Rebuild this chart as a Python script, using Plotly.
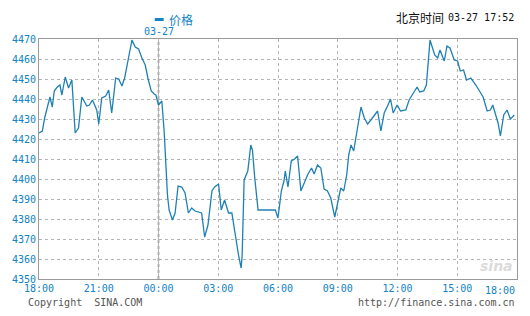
import plotly.graph_objects as go
from datetime import datetime, timedelta

# ---- data ----
times = ["18:00","18:10","18:17","18:25","18:33","18:40","18:46","18:55","19:03","19:09",
         "19:19","19:29","19:39","19:49","19:59","20:09","20:14","20:24","20:32","20:41",
         "20:54","21:00","21:09","21:21","21:30","21:39","21:46","21:51","22:00","22:10",
         "22:18","22:28","22:40","22:50","23:00","23:10","23:20","23:28","23:38","23:47",
         "23:52","00:00","00:10","00:17","00:27","00:32","00:42","00:50","00:59","01:10",
         "01:20","01:30","01:40","01:50","02:10","02:19","02:29","02:41","02:49","03:01",
         "03:09","03:19","03:31","03:41","03:51","04:01","04:09","04:12","04:18","04:29",
         "04:38","04:43","04:50","05:00","05:20","05:52","06:00","06:10","06:18","06:22",
         "06:30","06:40","06:50","06:59","07:09","07:19","07:29","07:41","07:49","07:59",
         "08:09","08:19","08:29","08:39","08:51","09:01","09:09","09:18","09:27","09:33",
         "09:40","09:48","09:56","10:03","10:10","10:20","10:30","10:40","10:50","11:00",
         "11:10","11:20","11:30","11:39","11:47","11:59","12:09","12:25","12:35","12:47",
         "12:59","13:07","13:19","13:27","13:32","13:38","13:52","14:01","14:08","14:21",
         "14:29","14:38","14:51","15:01","15:09","15:19","15:28","15:41","15:56","16:07",
         "16:18","16:30","16:40","16:47","16:55","17:03","17:10","17:20","17:30","17:40",
         "17:52"]
prices = [4423,4424,4430.5,4436,4441,4436,4444,4446,4447,4442,
          4451,4445.5,4449.5,4423,4425.5,4441,4439.5,4436.5,4437,4439.5,
          4434.5,4427.5,4440.5,4441.5,4444.5,4433,4443,4450.5,4450,4446.5,
          4450.5,4459,4469.5,4466,4465,4460.5,4457,4450.5,4444,4442.5,
          4442,4437,4439,4424,4392,4384.5,4379.5,4383,4396.5,4396,
          4393,4383,4385.5,4384,4383,4371,4377,4394,4396,4397.5,
          4384.5,4389.5,4383,4383,4371.5,4362,4355.5,4362,4399.5,4404,
          4417,4414.5,4400.5,4384.5,4384.5,4384.5,4380.5,4394,4399,4404,
          4396,4409,4410,4411.5,4394,4398,4402,4405.5,4402.5,4407,
          4405.5,4395,4394,4390.5,4381,4389,4395.5,4394,4402,4412,
          4417,4414,4422,4429.5,4436,4430.5,4427.5,4429.5,4431.5,4434,
          4424,4433,4436.5,4440,4433,4437,4434,4434.5,4439.5,4443,
          4446,4443.5,4444,4447,4455.5,4469.5,4462,4460.5,4464.5,4459,
          4466.5,4465.5,4459.5,4459,4454,4454.5,4449.5,4450.5,4447,4444,
          4441,4434,4434.5,4437,4432,4428,4421.5,4432,4434.5,4430,
          4432]
tick_labels = ["18:00","21:00","00:00","03:00","06:00","09:00","12:00","15:00","18:00"]
y_ticks = [4350,4360,4370,4380,4390,4400,4410,4420,4430,4440,4450,4460,4470]
series_name = "价格"
date_label = "03-27"
stamp_label = "03-27 17:52"

# ---- build datetimes ----
start = datetime(2025, 3, 26, 18, 0)
xs = []
day = datetime(2025, 3, 26)
prev = None
for t in times:
    h, m = map(int, t.split(":"))
    if prev is not None and (h, m) < prev:
        day = day + timedelta(days=1)
    prev = (h, m)
    xs.append(day + timedelta(hours=h, minutes=m))
end = start + timedelta(hours=24)
tickvals = [start + timedelta(hours=3 * i) for i in range(len(tick_labels))]
midnight = start + timedelta(hours=6)

BLUE = "#1283c4"
LINE = "#1f80b4"
W, H = 530, 316
ML, MR, MT, MB = 35, 12, 39, 37
PW, PH = W - ML - MR, H - MT - MB

def px(x):
    return (x - ML) / PW

def py(y):
    return (H - MB - y) / PH

fig = go.Figure()
fig.add_trace(go.Scatter(x=xs, y=prices, mode="lines", name=series_name,
                         line=dict(color=LINE, width=1.3), showlegend=False))

mono = "DejaVu Sans Mono"
fig.update_layout(
    width=W, height=H,
    margin=dict(l=ML, r=MR, t=MT, b=MB),
    paper_bgcolor="white", plot_bgcolor="white",
    xaxis=dict(range=[start, end], tickvals=tickvals[:-1], ticktext=tick_labels[:-1],
               showgrid=True, gridcolor="#b4b4b4", griddash="dot", gridwidth=1,
               showline=True, mirror=True, linecolor="#9a9a9a", linewidth=1,
               ticks="", tickfont=dict(family=mono, size=10, color=BLUE), zeroline=False),
    yaxis=dict(range=[4350, 4470], tickvals=y_ticks, ticktext=[str(v) for v in y_ticks],
               showgrid=True, gridcolor="#b4b4b4", griddash="dot", gridwidth=1,
               showline=True, mirror=True, linecolor="#9a9a9a", linewidth=1,
               ticks="", tickfont=dict(family=mono, size=10, color=BLUE), zeroline=False),
)

# date separator at midnight
fig.add_shape(type="line", xref="x", yref="paper", x0=midnight, x1=midnight, y0=0, y1=1,
              line=dict(color="#b0b0b0", width=2, dash="dot"), layer="below")

ann = []
# last x tick label, shifted to fit
ann.append(dict(x=px(518), y=py(290), xref="paper", yref="paper", text=tick_labels[-1],
                showarrow=False, xanchor="right", yanchor="middle",
                font=dict(family=mono, size=10, color=BLUE)))
# date label above midnight
ann.append(dict(x=midnight, y=py(31.5), xref="x", yref="paper", text=date_label,
                showarrow=False, xanchor="center", yanchor="middle",
                font=dict(family=mono, size=10, color=BLUE)))
# legend text
ann.append(dict(x=px(164), y=py(19.5), xref="paper", yref="paper", text=series_name,
                showarrow=False, xanchor="left", yanchor="middle",
                font=dict(family="Noto Sans CJK SC", size=12, color=BLUE)))
# Beijing time
ann.append(dict(x=px(517), y=py(17), xref="paper", yref="paper", text=stamp_label,
                showarrow=False, xanchor="right", yanchor="middle",
                font=dict(family=mono, size=10, color="#111111")))
ann.append(dict(x=px(446), y=py(17), xref="paper", yref="paper", text="北京时间",
                showarrow=False, xanchor="right", yanchor="middle",
                font=dict(family="Noto Sans CJK SC", size=12, color="#111111")))
# footer
ann.append(dict(x=px(22), y=py(302), xref="paper", yref="paper", text="Copyright  SINA.COM",
                showarrow=False, xanchor="left", yanchor="middle",
                font=dict(family=mono, size=10, color="#555555")))
ann.append(dict(x=px(518), y=py(302), xref="paper", yref="paper",
                text="http://finance.sina.com.cn",
                showarrow=False, xanchor="right", yanchor="middle",
                font=dict(family=mono, size=10, color="#555555")))
# watermark
ann.append(dict(x=px(516), y=py(266), xref="paper", yref="paper", text="<b><i>sina</i></b>",
                showarrow=False, xanchor="right", yanchor="middle", opacity=0.35,
                font=dict(family="DejaVu Sans", size=14, color="#999999")))
fig.update_layout(annotations=ann)

# legend marker
fig.add_shape(type="rect", xref="paper", yref="paper", x0=px(152), x1=px(161),
              y0=py(21), y1=py(18), fillcolor=BLUE, line=dict(width=0))

fig.write_html("out.html")
